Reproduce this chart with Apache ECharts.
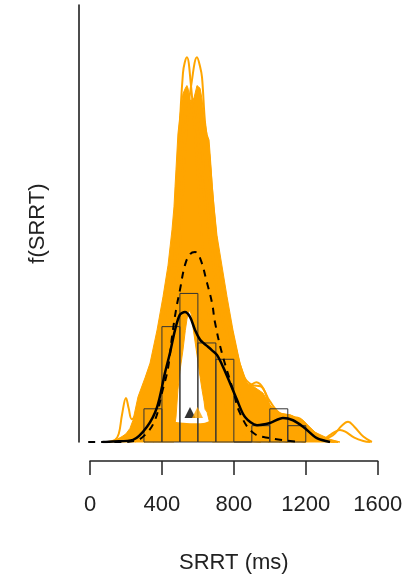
<!DOCTYPE html>
<html>
<head>
<meta charset="utf-8">
<script src="https://cdn.jsdelivr.net/npm/echarts@6/dist/echarts.min.js"></script>
<style>html,body{margin:0;padding:0;background:#fff;}#c{width:419px;height:582px;}</style>
</head>
<body>
<div id="c"></div>
<script>
// ---- data (x in ms, y = density per second) ----
const xTicks = [0, 400, 800, 1200, 1600];
const histStart = [300, 400, 500, 600, 700, 800, 900, 1000, 1100];
const histEnd   = [400, 500, 600, 700, 800, 900, 1000, 1100, 1200];
const histDens  = [0.61, 2.12, 2.73, 1.82, 1.52, 0, 0.30, 0.61, 0.30];

const solidKde = [[70,0],[128,0.01],[239,0.04],[317,0.28],[373,0.64],[417,1.27],[445,1.64],[473,2.06],[500,2.34],[528,2.39],[556,2.30],[584,2.06],[612,1.88],[634,1.81],[656,1.75],[680,1.68],[706,1.60],[740,1.38],[779,1.08],[818,0.77],[862,0.46],[929,0.31],[1001,0.35],[1073,0.44],[1129,0.40],[1185,0.28],[1262,0.07],[1335,0]];
const dashedKde = [[-10,0],[167,0],[250,0.02],[306,0.13],[361,0.40],[400,0.90],[434,1.36],[456,1.93],[478,2.42],[500,2.79],[528,3.25],[556,3.45],[584,3.49],[612,3.38],[651,2.92],[679,2.55],[695,2.20],[734,1.63],[795,0.96],[834,0.53],[907,0.17],[1001,0.07],[1168,0]];

const bandX = [100,140,178,200,222,239,267,306,334,373,406,434,456,467,473,478,489,500,517,530,539,545,556,567,573,595,612,623,634,640,651,662,670,680,690,706,762,795,834,873,918,962,1001,1057,1112,1185,1251,1335,1390];
const bandUpper = [0,0.03,0.10,0.15,0.25,0.40,0.83,1.18,1.45,2.06,2.67,3.25,3.90,4.32,4.70,5.00,5.66,6.00,6.40,6.50,6.55,6.50,6.30,6.20,6.25,6.55,6.50,6.30,5.95,5.86,5.65,5.55,5.20,4.70,4.32,3.80,2.67,2.06,1.45,1.08,1.00,0.90,0.68,0.53,0.50,0.40,0.18,0.05,0];
const bandLower = [0,0,0,0,0,0,0,0,0,0,0,0,0,0,0.35,0.45,0.96,1.30,1.69,2.05,2.25,2.37,2.42,2.30,2.10,1.60,1.20,0.96,0.75,0.60,0.55,0.40,0.30,0,0,0,0,0,0,0,0,0,0,0,0,0,0,0,0];
const bottomStrip = [[440,0.40],[470,0.36],[520,0.34],[580,0.33],[640,0.34],[680,0.40]];

const orangeCurves = [
  [[300,0],[400,0.5],[450,2.0],[489,5.0],[517,6.78],[539,7.07],[560,6.6],[585,5.6],[620,3.8],[680,1.8],[750,0.6],[850,0.1],[950,0]],
  [[350,0],[450,1.0],[500,3.5],[540,5.9],[567,6.65],[595,7.07],[612,6.9],[623,6.7],[640,5.86],[662,5.3],[690,4.2],[730,2.9],[800,1.3],[900,0.25],[1000,0]],
  [[100,0],[140,0.04],[160,0.15],[178,0.50],[200,0.81],[215,0.62],[232,0.42],[260,0.55],[300,0.95],[350,1.55],[420,2.5],[480,3.1],[530,3.0],[600,2.5],[680,1.8],[780,0.9],[900,0.3],[1000,0.1],[1100,0]],
  [[650,4.0],[720,2.9],[800,1.7],[900,0.85],[1000,0.5],[1100,0.35],[1200,0.15],[1290,0.06],[1350,0.12],[1400,0.30],[1435,0.37],[1470,0.28],[1520,0.10],[1568,0]],
  [[900,0.6],[1000,0.45],[1100,0.3],[1200,0.12],[1290,0.05],[1340,0.14],[1390,0.22],[1420,0.19],[1470,0.08],[1520,0.02],[1560,0]],
  [[600,5.0],[700,3.6],[780,2.2],[850,1.25],[900,1.05],[950,1.02],[1000,0.75],[1060,0.52],[1120,0.48],[1200,0.30],[1300,0.06],[1380,0]],
  [[250,0],[350,0.6],[420,2.0],[470,4.0],[510,5.6],[545,6.2],[580,6.0],[620,5.0],[660,3.8],[720,2.5],[800,1.3],[880,0.6],[960,0.3],[1060,0]],
  [[380,0],[440,1.2],[480,3.0],[520,5.2],[550,6.1],[575,6.3],[600,6.0],[640,4.8],[690,3.2],[750,2.0],[820,1.1],[880,0.7],[920,0.55],[960,0.5],[1020,0.35],[1100,0.1],[1200,0]],
  [[650,5.2],[720,3.3],[790,2.0],[840,1.3],[880,1.02],[925,1.1],[965,0.98],[1010,0.6],[1080,0.42],[1150,0.45],[1220,0.25],[1300,0.05],[1360,0]]
];
const markBlack = [[556, 0.54]];
const markOrange = [[598, 0.54]];

// ---- chart ----
const ORANGE = '#FFA500';
const TXT = '#222';
const FONT = 'Liberation Sans, Arial, sans-serif';
const chart = echarts.init(document.getElementById('c'), null, {renderer: 'canvas'});

const series = [];
series.push({
  type: 'custom', xAxisIndex: 0, yAxisIndex: 0, z: 1, silent: true,
  data: bandX.map((x, i) => [x, bandUpper[i]]),
  renderItem: function (params, api) {
    if (params.dataIndex !== 0) return null;
    const pts = [];
    for (let i = 0; i < bandX.length; i++) pts.push(api.coord([bandX[i], bandUpper[i]]));
    for (let i = bandX.length - 1; i >= 0; i--) pts.push(api.coord([bandX[i], bandLower[i]]));
    return {type: 'polygon', shape: {points: pts}, style: {fill: ORANGE, stroke: ORANGE, lineWidth: 1}};
  }
});
series.push({
  type: 'line', data: bottomStrip, smooth: 0.3, showSymbol: false, z: 1, silent: true,
  lineStyle: {color: ORANGE, width: 1.5}, areaStyle: {color: ORANGE, opacity: 1}
});
orangeCurves.forEach(c => series.push({
  type: 'line', data: c, smooth: 0.4, showSymbol: false, z: 2, silent: true,
  lineStyle: {color: ORANGE, width: 2}
}));
series.push({
  type: 'custom', z: 3, silent: true,
  data: histStart.map((s, i) => [s, histEnd[i], histDens[i]]),
  encode: {x: [0, 1], y: 2},
  renderItem: function (params, api) {
    const a = api.coord([api.value(0), api.value(2)]);
    const b = api.coord([api.value(1), 0]);
    return {type: 'rect', shape: {x: a[0], y: a[1], width: b[0] - a[0], height: b[1] - a[1]},
      style: {fill: 'none', stroke: '#333', lineWidth: 1}};
  }
});
series.push({
  type: 'line', data: dashedKde, smooth: 0.4, showSymbol: false, z: 4, silent: true,
  lineStyle: {color: '#000', width: 2, type: [7, 6]}
});
series.push({
  type: 'line', data: solidKde, smooth: 0.3, showSymbol: false, z: 4, silent: true,
  lineStyle: {color: '#000', width: 2.5}
});
series.push({
  type: 'scatter', data: markBlack, symbol: 'triangle', symbolSize: 11, z: 5, silent: true,
  itemStyle: {color: '#000'}
});
series.push({
  type: 'scatter', data: markOrange, symbol: 'triangle', symbolSize: 11, z: 6, silent: true,
  itemStyle: {color: ORANGE}
});

chart.setOption({
  animation: false,
  backgroundColor: '#fff',
  textStyle: {fontFamily: FONT},
  grid: [
    {left: 78.5, right: 29.8, top: 5, bottom: 140},
    {left: 90, right: 41.3, top: 460, height: 1}
  ],
  xAxis: [
    {gridIndex: 0, type: 'value', min: -64, max: 1664, show: false},
    {gridIndex: 1, type: 'value', min: 0, max: 1600, interval: 400,
      axisLine: {show: true, lineStyle: {color: TXT, width: 1.5}},
      axisTick: {show: true, inside: false, length: 14, lineStyle: {color: TXT, width: 1.5}},
      axisLabel: {show: true, fontSize: 22, color: TXT, margin: 33, fontFamily: FONT, showMaxLabel: true, showMinLabel: true,
        formatter: v => String(v)},
      splitLine: {show: false},
      name: 'SRRT (ms)', nameLocation: 'middle', nameGap: 91,
      nameTextStyle: {fontSize: 22, color: TXT, fontFamily: FONT}}
  ],
  yAxis: [
    {gridIndex: 0, type: 'value', min: 0, max: 8.03,
      axisLine: {show: true, onZero: false, lineStyle: {color: '#111', width: 1.5}},
      axisTick: {show: false}, axisLabel: {show: false}, splitLine: {show: false},
      name: 'f(SRRT)', nameLocation: 'middle', nameGap: 30, nameRotate: 90,
      nameTextStyle: {fontSize: 22, color: TXT, fontFamily: FONT}},
    {gridIndex: 1, type: 'value', min: 0, max: 1, show: false}
  ],
  series: series
});
</script>
</body>
</html>
